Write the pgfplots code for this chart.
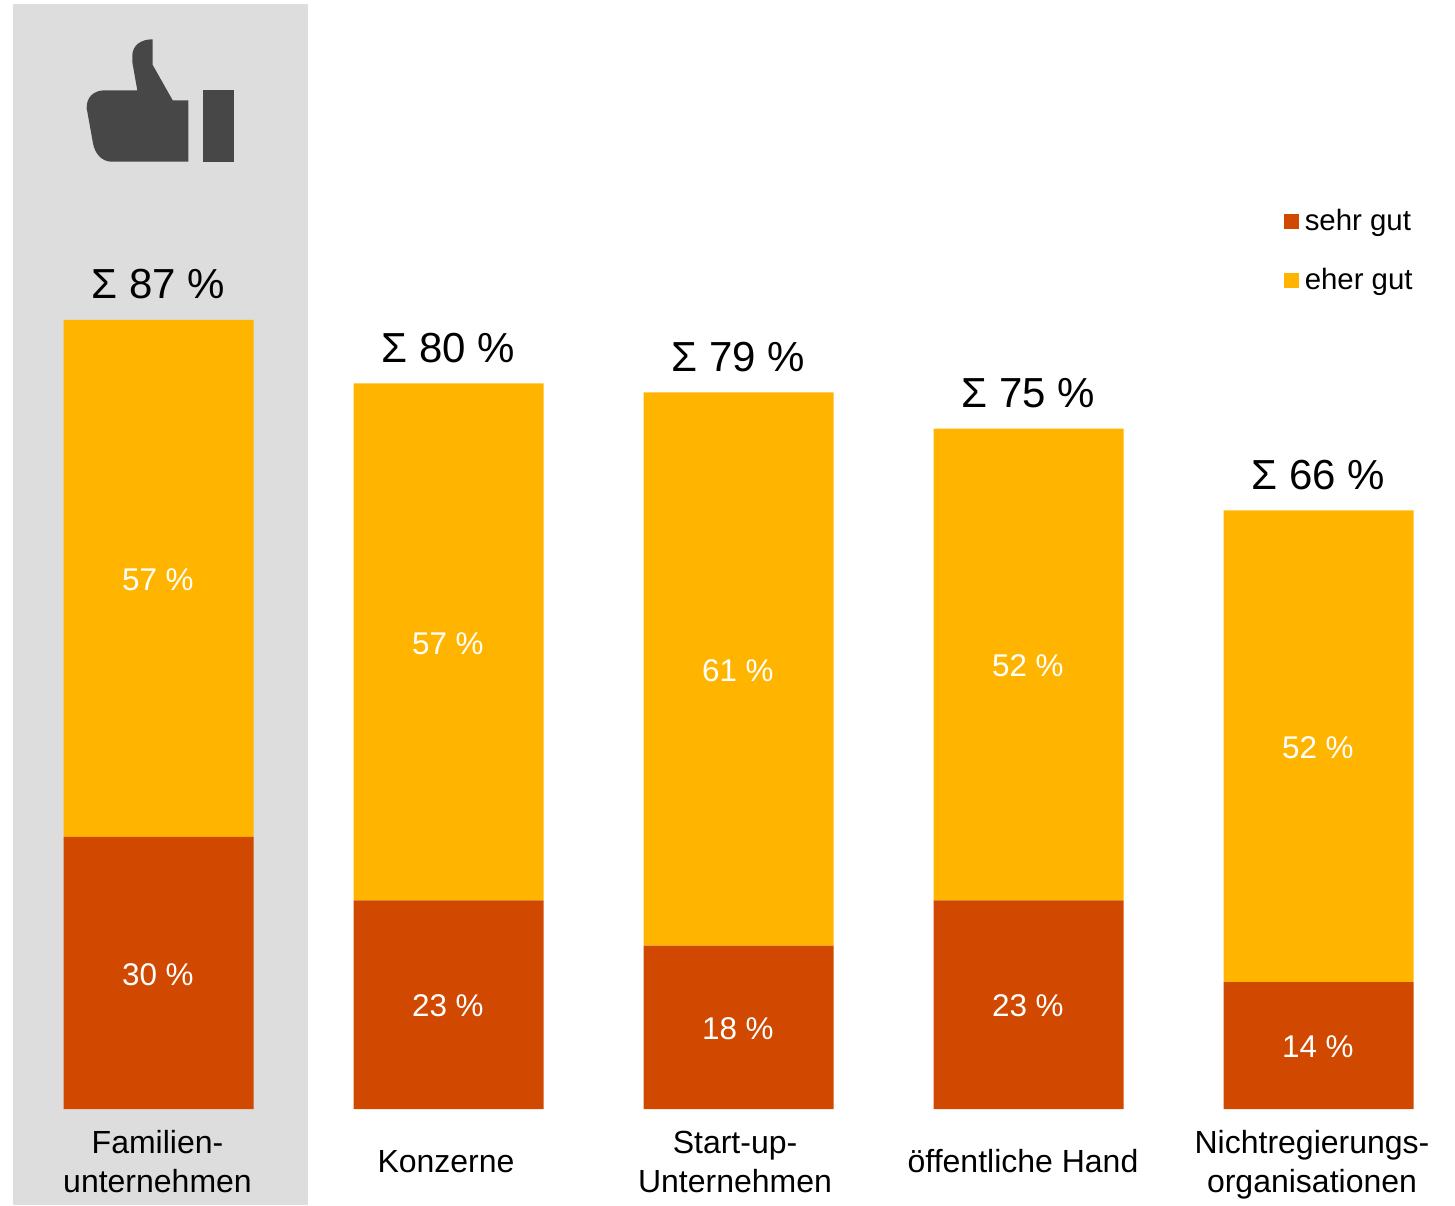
\documentclass[border=0pt]{standalone}
\usepackage{fontspec}
\setmainfont{Liberation Sans}
\usepackage{pgfplots}
\usepackage{pgfplotstable}
\pgfplotsset{compat=1.18}
\definecolor{sehrgut}{HTML}{D14900}
\definecolor{ehergut}{HTML}{FFB500}
\definecolor{panel}{HTML}{DDDDDD}
\definecolor{thumb}{HTML}{474747}

\pgfplotstableread{
x v
0 30
1 23
2 18
3 23
4 14
}\sehrguttable
\pgfplotstableread{
x v
0 57
1 57
2 61
3 52
4 52
}\eherguttable

\begin{document}
\begin{tikzpicture}
\useasboundingbox (0,0) rectangle (727.5pt,602.5pt);
% shaded panel and thumb icon, laid out on a half-point grid from the top left
\begin{scope}[x=0.5pt,y=-0.5pt,shift={(0,-1205)}]
\fill[panel] (13,4) rectangle (308,1205);
\fill[thumb] (152.7,39.3) .. controls (140,39.3) and (132.3,46) .. (132.3,56)
  -- (132.3,62) -- (137.3,90.3) -- (105,90.3)
  .. controls (93,90.3) and (86.2,98) .. (86.7,108.3)
  -- (93,143.3) .. controls (95,154) and (102,161.7) .. (111.7,161.7)
  -- (188.3,161.7) -- (188.3,100.3) -- (172.7,100.3) -- (152.7,65) -- cycle;
\fill[thumb] (203,90) rectangle (234,161.7);
\end{scope}
\begin{axis}[
  at={(0,0)}, anchor=south west,
  scale only axis, width=727.5pt, height=602.5pt,
  xmin=-0.5466, xmax=4.4707,
  ymin=-10.584, ymax=122.27,
  hide axis, clip=false,
  ybar stacked, bar width=95pt,
  /pgf/number format/assume math mode=true,
  point meta=\thisrow{v},
  nodes near coords={\pgfmathprintnumber{\pgfplotspointmeta}\ \%},
  every node near coord/.style={anchor=center, text=white, font=\fontsize{15.7}{18}\selectfont,
    yshift=-0.7pt, xshift=-0.3pt},
  legend cell align=left,
  legend style={draw=none, fill=none, at={(0.8823,0.8263)}, anchor=north west,
    font=\fontsize{14.7}{17}\selectfont, row sep=17.5pt, inner sep=0pt, outer sep=0pt,
    nodes={inner xsep=3pt, inner ysep=0pt}},
  legend image code/.code={\fill[#1] (0pt,-3.75pt) rectangle (7.5pt,3.75pt);},
]
\addplot[draw=none, fill=sehrgut] table[x=x, y=v] {\sehrguttable};
\addlegendentry{sehr gut}
\addplot[draw=none, fill=ehergut] table[x=x, y=v] {\eherguttable};
\addlegendentry{eher gut}
\end{axis}
% totals above the bars and category names below them
\begin{scope}[x=0.5pt,y=-0.5pt,shift={(0,-1205)}]
\tikzset{total/.style={font=\fontsize{21}{25}\selectfont, anchor=base},
  cat/.style={font=\fontsize{16}{19.5}\selectfont, align=center, anchor=center}}
\node[total] at (158.5,299) {Σ 87 \%};
\node[total] at (448.5,363) {Σ 80 \%};
\node[total] at (738.5,372) {Σ 79 \%};
\node[total] at (1028.5,408) {Σ 75 \%};
\node[total] at (1318.5,490) {Σ 66 \%};
\node[cat] at (157.5,1162) {Familien-\\unternehmen};
\node[cat] at (446,1162) {Konzerne};
\node[cat] at (735,1162) {Start-up-\\Unternehmen};
\node[cat] at (1023,1161) {öffentliche Hand};
\node[cat] at (1312,1165) {Nichtregierungs-\\organisationen};
\end{scope}
\end{tikzpicture}
\end{document}
